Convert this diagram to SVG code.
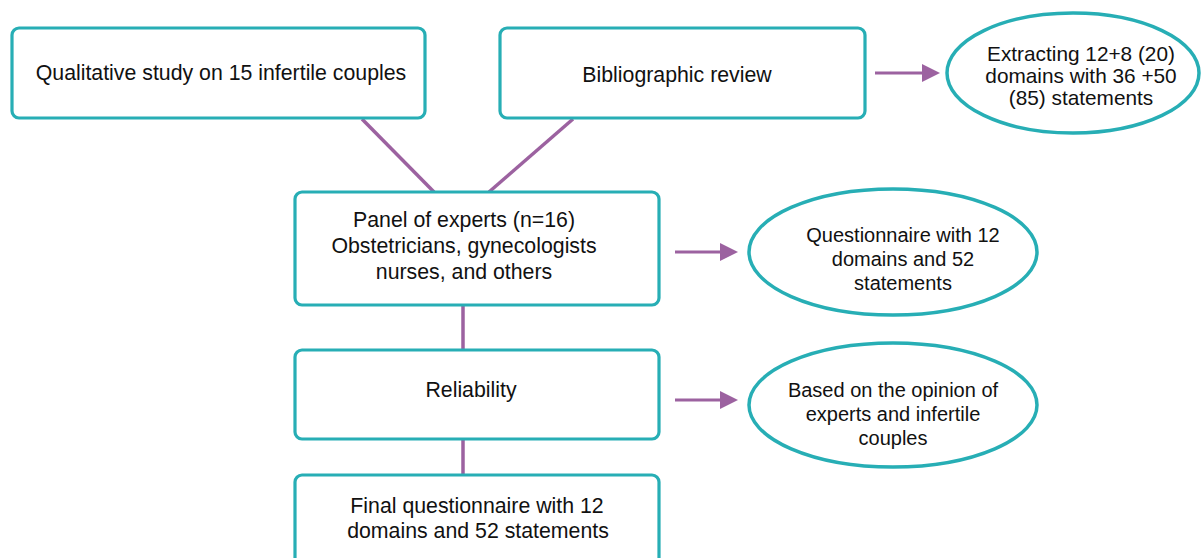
<svg xmlns="http://www.w3.org/2000/svg" width="1202" height="558" viewBox="0 0 1202 558">
<style>
.box{fill:#fff;stroke:#27AEB5;stroke-width:3.2}
.ell{fill:#fff;stroke:#27AEB5;stroke-width:3.5}
.con{stroke:#9C62A0;stroke-width:3.5;fill:none}
.arr{stroke:#9C62A0;stroke-width:3;fill:none}
text{font-family:"Liberation Sans",Arial,sans-serif;font-size:20px;fill:#111;text-anchor:middle}
.bt{font-size:21.3px}
.e1{font-size:20.8px}
</style>
<defs>
<marker id="ah" markerWidth="6" markerHeight="6" refX="1" refY="3" orient="auto" markerUnits="strokeWidth">
<path d="M0,0 L6,3 L0,6 Z" fill="#9C62A0"/>
</marker>
</defs>
<rect width="1202" height="558" fill="#fff"/>
<g id="connectors">
<line class="con" x1="362" y1="119" x2="434" y2="192"/>
<line class="con" x1="573" y1="119" x2="489" y2="192"/>
<line class="con" x1="463" y1="306" x2="463" y2="350"/>
<line class="con" x1="463" y1="439" x2="463" y2="475"/>
<line class="arr" x1="875" y1="73" x2="925" y2="73" marker-end="url(#ah)"/>
<line class="arr" x1="675" y1="252" x2="723" y2="252" marker-end="url(#ah)"/>
<line class="arr" x1="675" y1="400" x2="723" y2="400" marker-end="url(#ah)"/>
</g>
<g id="qualitative">
<rect class="box" x="12" y="28" width="413" height="90" rx="7"/>
<text class="bt" x="221" y="80">Qualitative study on 15 infertile couples</text>
</g>
<g id="bibliographic">
<rect class="box" x="500" y="28" width="365" height="90" rx="7"/>
<text class="bt" x="677" y="82">Bibliographic review</text>
</g>
<g id="extracting">
<ellipse class="ell" cx="1073" cy="73" rx="126" ry="60"/>
<text class="e1" x="1081" y="61">Extracting 12+8 (20)</text>
<text class="e1" x="1081" y="83">domains with 36 +50</text>
<text class="e1" x="1081" y="105">(85) statements</text>
</g>
<g id="panel">
<rect class="box" x="295" y="192" width="364" height="113" rx="7"/>
<text class="bt" x="464" y="227">Panel of experts (n=16)</text>
<text class="bt" x="464" y="253">Obstetricians, gynecologists</text>
<text class="bt" x="464" y="279">nurses, and others</text>
</g>
<g id="questionnaire">
<ellipse class="ell" cx="893" cy="252" rx="144" ry="63"/>
<text x="903" y="242">Questionnaire with 12</text>
<text x="903" y="266">domains and 52</text>
<text x="903" y="290">statements</text>
</g>
<g id="reliability">
<rect class="box" x="295" y="350" width="364" height="89" rx="7"/>
<text class="bt" x="471" y="397">Reliability</text>
</g>
<g id="opinion">
<ellipse class="ell" cx="893" cy="405" rx="144" ry="62"/>
<text x="893" y="397">Based on the opinion of</text>
<text x="893" y="421">experts and infertile</text>
<text x="893" y="445">couples</text>
</g>
<g id="final">
<rect class="box" x="295" y="475" width="364" height="100" rx="7"/>
<text class="bt" x="477" y="513">Final questionnaire with 12</text>
<text class="bt" x="478" y="538">domains and 52 statements</text>
</g>
</svg>
